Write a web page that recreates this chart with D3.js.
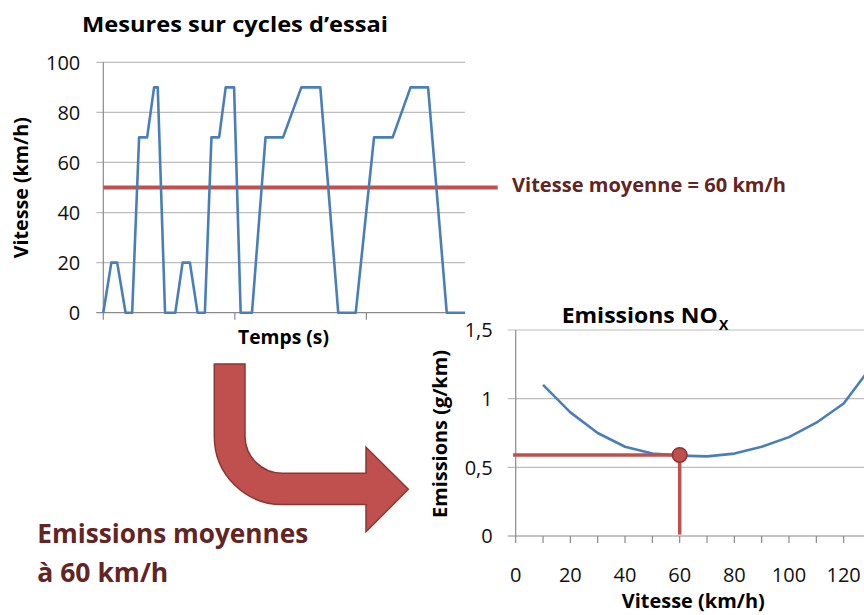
<!DOCTYPE html>
<html>
<head>
<meta charset="utf-8">
<script src="https://cdn.jsdelivr.net/npm/d3@7"></script>
<style>
  body { margin: 0; background: #fff; }
  svg { display: block; font-family: "Open Sans", "Noto Sans", sans-serif; }
</style>
</head>
<body>
<svg width="864" height="615"></svg>
<script>
// cycle d'essai (temps en s, vitesse en km/h)
const temps = [0, 22, 38, 61, 79, 98, 120, 139, 149, 169, 197, 217, 237, 258, 278, 296, 317, 335, 358, 376, 407, 444, 492, 542, 594, 643, 691, 741, 792, 841, 889, 940, 990];
const vitesse = [0, 20, 20, 0, 0, 70, 70, 90, 90, 0, 0, 20, 20, 0, 0, 70, 70, 90, 90, 0, 0, 70, 70, 90, 90, 0, 0, 70, 70, 90, 90, 0, 0];
const vitesseTicks = [0, 20, 40, 60, 80, 100];
const tempsTicks = [0, 360, 720];
const vitesseMoyenne = 50;

// courbe d'emissions NOx
const vitesseNox = [10, 20, 30, 40, 50, 60, 70, 80, 90, 100, 110, 120, 130];
const emissionsNox = [1.10, 0.90, 0.75, 0.65, 0.60, 0.585, 0.58, 0.60, 0.65, 0.72, 0.825, 0.965, 1.23];
const emissionsTicks = [0, 0.5, 1, 1.5];
const vitesseNoxTicks = [0, 10, 20, 30, 40, 50, 60, 70, 80, 90, 100, 110, 120, 130];
const pointVitesse = 60, pointEmission = 0.59;

const blue = "#4a7ebb", red = "#c0504d", darkRed = "#632523";
const gridColor = "#bdbdbd", axisColor = "#8a8a8a";

const svg = d3.select("svg");

/* ---------- graphique du haut ---------- */
const xT = d3.scaleLinear().domain([0, 990]).range([103.3, 465]);
const yT = d3.scaleLinear().domain([0, 100]).range([312.7, 62.3]);
const gTop = svg.append("g");

gTop.selectAll(".gridT").data(vitesseTicks).enter().append("line")
    .attr("x1", xT(0) - 7).attr("x2", xT(990))
    .attr("y1", d => yT(d)).attr("y2", d => yT(d))
    .attr("stroke", d => d === 0 ? axisColor : gridColor).attr("stroke-width", 1.2);

gTop.append("line")
    .attr("x1", xT(0)).attr("x2", xT(0))
    .attr("y1", yT(100)).attr("y2", yT(0))
    .attr("stroke", axisColor).attr("stroke-width", 1.2);

gTop.selectAll(".tickT").data(tempsTicks).enter().append("line")
    .attr("x1", d => xT(d)).attr("x2", d => xT(d))
    .attr("y1", yT(0)).attr("y2", yT(0) + 7)
    .attr("stroke", axisColor).attr("stroke-width", 1.2);

gTop.selectAll(".labT").data(vitesseTicks).enter().append("text")
    .attr("x", xT(0) - 23).attr("y", d => yT(d)).attr("dy", "0.36em")
    .attr("text-anchor", "end").attr("font-size", 20).attr("fill", "#111")
    .text(d => d);

gTop.append("line")
    .attr("x1", xT(0)).attr("x2", 497.7)
    .attr("y1", yT(vitesseMoyenne)).attr("y2", yT(vitesseMoyenne))
    .attr("stroke", red).attr("stroke-width", 4);

const lineT = d3.line().x((d, i) => xT(temps[i])).y(d => yT(d));
gTop.append("path").datum(vitesse)
    .attr("d", lineT).attr("fill", "none")
    .attr("stroke", blue).attr("stroke-width", 2.6).attr("stroke-linejoin", "round");

gTop.append("text").attr("x", 235).attr("y", 31.7)
    .attr("text-anchor", "middle").attr("font-size", 22).attr("font-weight", "bold")
    .attr("textLength", 306).attr("lengthAdjust", "spacingAndGlyphs")
    .text("Mesures sur cycles d\u2019essai");

gTop.append("text").attr("transform", "translate(28.3,187.7) rotate(-90)")
    .attr("text-anchor", "middle").attr("font-size", 19).attr("font-weight", "bold")
    .attr("textLength", 141).attr("lengthAdjust", "spacingAndGlyphs")
    .text("Vitesse (km/h)");

gTop.append("text").attr("x", 283.5).attr("y", 344)
    .attr("text-anchor", "middle").attr("font-size", 19).attr("font-weight", "bold")
    .attr("textLength", 91).attr("lengthAdjust", "spacingAndGlyphs")
    .text("Temps (s)");

gTop.append("text").attr("x", 512).attr("y", 191.7)
    .attr("font-size", 19).attr("font-weight", "bold").attr("fill", darkRed)
    .attr("textLength", 274).attr("lengthAdjust", "spacingAndGlyphs")
    .text("Vitesse moyenne = 60 km/h");

/* ---------- fleche ---------- */
const p = d3.path();
p.moveTo(214.3, 364);
p.lineTo(245, 364);
p.lineTo(245, 436);
p.arcTo(245, 473.3, 282.3, 473.3, 37.3);
p.lineTo(366, 473.3);
p.lineTo(366, 447.3);
p.lineTo(408.3, 489.3);
p.lineTo(366, 531.7);
p.lineTo(366, 504.5);
p.lineTo(282.3, 504.5);
p.arcTo(214.3, 504.5, 214.3, 436, 68);
p.closePath();
svg.append("path").attr("d", p.toString())
    .attr("fill", red).attr("stroke", "#8c3532").attr("stroke-width", 1.5);

svg.append("text").attr("x", 37.3).attr("y", 542.7)
    .attr("font-size", 27).attr("font-weight", "bold").attr("fill", darkRed)
    .attr("textLength", 271).attr("lengthAdjust", "spacingAndGlyphs")
    .text("Emissions moyennes");
svg.append("text").attr("x", 37.3).attr("y", 581.7)
    .attr("font-size", 27).attr("font-weight", "bold").attr("fill", darkRed)
    .attr("textLength", 131).attr("lengthAdjust", "spacingAndGlyphs")
    .text("\u00e0 60 km/h");

/* ---------- graphique du bas ---------- */
const xB = d3.scaleLinear().domain([0, 130]).range([515.7, 871]);
const yB = d3.scaleLinear().domain([0, 1.5]).range([536, 330]);
const gBot = svg.append("g");
const fr = d => String(d).replace(".", ",");

gBot.selectAll(".gridB").data(emissionsTicks).enter().append("line")
    .attr("x1", xB(0) - 8).attr("x2", xB(130))
    .attr("y1", d => yB(d)).attr("y2", d => yB(d))
    .attr("stroke", d => d === 0 ? axisColor : gridColor).attr("stroke-width", 1.2);

gBot.append("line")
    .attr("x1", xB(0)).attr("x2", xB(0))
    .attr("y1", yB(1.5)).attr("y2", yB(0))
    .attr("stroke", axisColor).attr("stroke-width", 1.2);

gBot.selectAll(".tickB").data(vitesseNoxTicks).enter().append("line")
    .attr("x1", d => xB(d)).attr("x2", d => xB(d))
    .attr("y1", yB(0)).attr("y2", yB(0) + 7)
    .attr("stroke", axisColor).attr("stroke-width", 1.2);

gBot.selectAll(".labBy").data(emissionsTicks).enter().append("text")
    .attr("x", xB(0) - 23).attr("y", d => yB(d)).attr("dy", "0.36em")
    .attr("text-anchor", "end").attr("font-size", 20).attr("fill", "#111")
    .text(fr);

gBot.selectAll(".labBx").data(vitesseNoxTicks.filter(d => d % 20 === 0)).enter().append("text")
    .attr("x", d => xB(d)).attr("y", 582)
    .attr("text-anchor", "middle").attr("font-size", 20).attr("fill", "#111")
    .text(d => d);

const lineB = d3.line().x((d, i) => xB(vitesseNox[i])).y(d => yB(d));
gBot.append("path").datum(emissionsNox)
    .attr("d", lineB).attr("fill", "none")
    .attr("stroke", blue).attr("stroke-width", 2.6).attr("stroke-linejoin", "round");

gBot.append("line")
    .attr("x1", xB(-1)).attr("x2", xB(pointVitesse))
    .attr("y1", yB(pointEmission)).attr("y2", yB(pointEmission))
    .attr("stroke", red).attr("stroke-width", 3.5);
gBot.append("line")
    .attr("x1", xB(pointVitesse)).attr("x2", xB(pointVitesse))
    .attr("y1", yB(pointEmission)).attr("y2", yB(0.01))
    .attr("stroke", red).attr("stroke-width", 3.5);
gBot.append("circle")
    .attr("cx", xB(pointVitesse)).attr("cy", yB(pointEmission)).attr("r", 7.3)
    .attr("fill", red).attr("stroke", "#8c3532").attr("stroke-width", 1.5);

gBot.append("text").attr("x", 561.7).attr("y", 322.7)
    .attr("font-size", 22).attr("font-weight", "bold")
    .attr("textLength", 156).attr("lengthAdjust", "spacingAndGlyphs")
    .text("Emissions NO");
gBot.append("text").attr("x", 719).attr("y", 329.5)
    .attr("font-size", 14).attr("font-weight", "bold")
    .text("X");

gBot.append("text").attr("transform", "translate(446.7,434) rotate(-90)")
    .attr("text-anchor", "middle").attr("font-size", 20).attr("font-weight", "bold")
    .attr("textLength", 168).attr("lengthAdjust", "spacingAndGlyphs")
    .text("Emissions (g/km)");

gBot.append("text").attr("x", 693.3).attr("y", 608)
    .attr("text-anchor", "middle").attr("font-size", 20).attr("font-weight", "bold")
    .attr("textLength", 143).attr("lengthAdjust", "spacingAndGlyphs")
    .text("Vitesse (km/h)");
</script>
</body>
</html>
